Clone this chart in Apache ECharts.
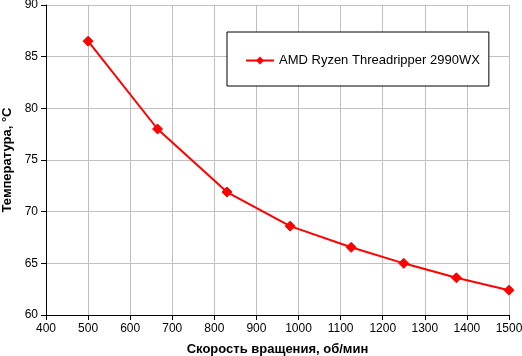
<!DOCTYPE html>
<html><head><meta charset="utf-8">
<script src="https://cdn.jsdelivr.net/npm/echarts@6/dist/echarts.min.js"></script>
<style>html,body{margin:0;padding:0;background:#fff}#c{width:522px;height:356px}</style>
</head><body><div id="c"></div>
<script>
const seriesName = 'AMD Ryzen Threadripper 2990WX';
const rpm = [500, 665, 830, 980, 1125, 1250, 1375, 1500];
const temps = [86.5, 78, 71.9, 68.6, 66.55, 65, 63.6, 62.4];
const xAxisTitle = 'Скорость вращения, об/мин';
const yAxisTitle = 'Температура, °C';

const font = 'Arial, "Liberation Sans", sans-serif';
const chart = echarts.init(document.getElementById('c'), null, {renderer: 'canvas'});
chart.setOption({
  animation: false,
  backgroundColor: '#fff',
  grid: {left: 46, right: 13, top: 5, bottom: 41, containLabel: false, outerBoundsMode: 'none'},
  legend: {
    left: 227, top: 32,
    padding: [22, 9, 19, 18],
    backgroundColor: '#fff', borderColor: '#000', borderWidth: 1,
    itemWidth: 28, itemHeight: 10, itemGap: 5,
    textStyle: {fontFamily: font, fontSize: 13, color: '#000'},
    data: [seriesName]
  },
  xAxis: {
    type: 'value', min: 400, max: 1500, interval: 100,
    name: xAxisTitle, nameLocation: 'middle', nameGap: 28,
    nameTextStyle: {fontFamily: font, fontSize: 13, fontWeight: 'bold', color: '#000'},
    axisLine: {show: true, lineStyle: {color: '#000', width: 1}},
    axisTick: {show: true, length: 5, inside: false, lineStyle: {color: '#000'}},
    axisLabel: {fontFamily: font, fontSize: 12, color: '#000', margin: 8, formatter: v => String(v)},
    splitLine: {show: true, lineStyle: {color: '#c0c0c0', width: 1}}
  },
  yAxis: {
    type: 'value', min: 60, max: 90, interval: 5,
    name: yAxisTitle, nameLocation: 'middle', nameGap: 30,
    nameTextStyle: {fontFamily: font, fontSize: 13, fontWeight: 'bold', color: '#000'},
    axisLine: {show: true, lineStyle: {color: '#000', width: 1}},
    axisTick: {show: true, length: 5, inside: false, lineStyle: {color: '#000'}},
    axisLabel: {fontFamily: font, fontSize: 12, color: '#000', margin: 8, formatter: v => String(v)},
    splitLine: {show: true, lineStyle: {color: '#c0c0c0', width: 1}}
  },
  series: [{
    name: seriesName, type: 'line',
    data: rpm.map((x, i) => [x, temps[i]]),
    symbol: 'diamond', symbolSize: 10, showAllSymbol: true,
    lineStyle: {color: '#ff0000', width: 2},
    itemStyle: {color: '#ff0000', borderColor: '#ff0000'},
    emphasis: {disabled: true}
  }]
});
</script></body></html>
